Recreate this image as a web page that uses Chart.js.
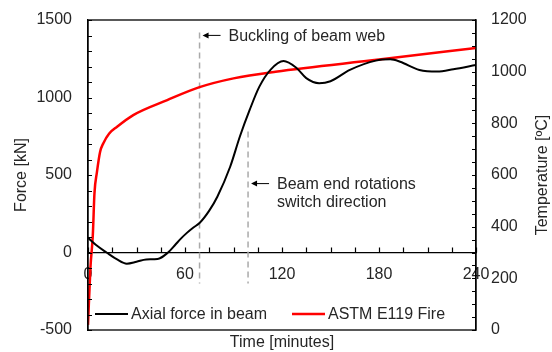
<!DOCTYPE html>
<html>
<head>
<meta charset="utf-8">
<script src="https://cdn.jsdelivr.net/npm/chart.js@4.4.0/dist/chart.umd.min.js"></script>
<style>
  html, body { margin: 0; padding: 0; background: #fff; }
  canvas { display: block; }
</style>
</head>
<body>
<canvas id="chart" width="552" height="352"></canvas>
<script>
// Axial force in beam (time in minutes, force in kN)
const forceTime = [0, 5, 11.5, 18, 24, 30, 36, 43, 49.5, 54, 57, 61, 65, 69, 75, 80, 88, 94, 100, 106, 113, 121, 129, 135, 143, 150, 162, 178, 187, 193, 205, 216, 226, 240];
const forceValues = [95, 48, 0, -45, -72, -60, -45, -42, 0, 50, 85, 125, 160, 190, 270, 360, 555, 750, 920, 1070, 1180, 1235, 1190, 1125, 1092, 1105, 1178, 1238, 1246, 1231, 1178, 1167, 1182, 1210];

// ASTM E119 fire curve (time in minutes, temperature in C)
const fireTime = [0, 1.5, 3, 4, 5.5, 7.5, 9.5, 13, 18, 28, 49, 69, 90, 116, 180, 240];
const fireTemp = [20, 240, 370, 530, 610, 690, 723, 760, 787, 832, 890, 940, 974, 1000, 1047, 1092];

// event markers
const noteTime = [69, 99];
const noteTop = [1420, 780];
const noteBottom = -200;
const noteText = [['Buckling of beam web'], ['Beam end rotations', 'switch direction']];

const FONT = 'Liberation Sans, Arial, sans-serif';
const TXT = '#262626';

function pairs(xs, ys) {
    return xs.map((x, i) => ({ x: x, y: ys[i] }));
}

// inward tick marks, frame, arrows and legend
const decorations = {
    id: 'decorations',
    afterDraw(chart) {
        const ctx = chart.ctx;
        const a = chart.chartArea;
        const sx = chart.scales.x, sy = chart.scales.y, sr = chart.scales.yr;
        ctx.save();
        ctx.strokeStyle = '#000';
        ctx.lineWidth = 1.2;
        ctx.beginPath();
        sy.ticks.forEach(t => {
            const p = Math.round(sy.getPixelForValue(t.value)) + 0.5;
            ctx.moveTo(a.left, p); ctx.lineTo(a.left + 4, p);
        });
        sr.ticks.forEach(t => {
            const p = Math.round(sr.getPixelForValue(t.value)) + 0.5;
            ctx.moveTo(a.right, p); ctx.lineTo(a.right - 4, p);
        });
        const y0 = sy.getPixelForValue(0);
        sx.ticks.forEach(t => {
            const p = Math.round(sx.getPixelForValue(t.value)) + 0.5;
            ctx.moveTo(p, y0); ctx.lineTo(p, y0 - 5);
        });
        ctx.stroke();
        ctx.lineWidth = 1.3;
        ctx.strokeRect(a.left, a.top, a.right - a.left, a.bottom - a.top);

        // arrows + notes
        ctx.font = '16px ' + FONT;
        ctx.fillStyle = TXT;
        ctx.textBaseline = 'middle';
        noteTime.forEach((t, i) => {
            const x = sx.getPixelForValue(t) + 3;
            const y = i === 0 ? sy.getPixelForValue(noteTop[0]) + 3 : sy.getPixelForValue(noteTop[1]) + 52;
            ctx.beginPath();
            ctx.lineWidth = 1;
            ctx.moveTo(x + 18, y); ctx.lineTo(x + 2, y);
            ctx.stroke();
            ctx.beginPath();
            ctx.moveTo(x, y); ctx.lineTo(x + 6, y - 3); ctx.lineTo(x + 6, y + 3); ctx.closePath();
            ctx.fillStyle = '#000';
            ctx.fill();
            ctx.fillStyle = TXT;
            noteText[i].forEach((line, j) => {
                ctx.fillText(line, x + 26, y + 1 + j * 18);
            });
        });

        // legend inside plot
        const ly = a.bottom - 16;
        const items = [[a.left + 7, 0], [a.left + 204, 1]];
        items.forEach(([lx, di]) => {
            const ds = chart.data.datasets[di];
            ctx.beginPath();
            ctx.strokeStyle = ds.borderColor;
            ctx.lineWidth = ds.borderWidth;
            ctx.moveTo(lx, ly); ctx.lineTo(lx + 33, ly);
            ctx.stroke();
            ctx.fillStyle = TXT;
            ctx.fillText(ds.label, lx + 36, ly + 1);
        });

        // right axis title, reading bottom to top
        ctx.save();
        ctx.translate(543, (a.top + a.bottom) / 2);
        ctx.rotate(-Math.PI / 2);
        ctx.textAlign = 'center';
        ctx.fillText('Temperature [\u00baC]', 0, 0);
        ctx.restore();
        ctx.restore();
    }
};

const markerSets = noteTime.map((t, i) => ({
    label: 'marker' + i,
    data: [{ x: t, y: noteTop[i] }, { x: t, y: noteBottom }],
    borderColor: '#aaaaaa',
    borderWidth: 1.5,
    borderDash: [6, 4],
    pointRadius: 0,
    yAxisID: 'y'
}));

new Chart(document.getElementById('chart'), {
    type: 'line',
    data: {
        datasets: [{
            label: 'Axial force in beam',
            data: pairs(forceTime, forceValues),
            borderColor: '#000',
            borderWidth: 2,
            pointRadius: 0,
            cubicInterpolationMode: 'monotone',
            yAxisID: 'y'
        }, {
            label: 'ASTM E119 Fire',
            data: pairs(fireTime, fireTemp),
            borderColor: '#ff0000',
            borderWidth: 2.5,
            pointRadius: 0,
            cubicInterpolationMode: 'monotone',
            yAxisID: 'yr'
        }].concat(markerSets)
    },
    options: {
        responsive: false,
        animation: false,
        events: [],
        layout: { padding: { top: 20, bottom: 0, left: 0, right: 0 } },
        plugins: { legend: { display: false }, tooltip: { enabled: false } },
        scales: {
            x: {
                type: 'linear',
                min: 0, max: 240,
                position: { y: 0 },
                grid: { display: false, drawTicks: false },
                border: { display: true, color: '#000', width: 1.2 },
                ticks: {
                    stepSize: 15,
                    autoSkip: false,
                    maxRotation: 0,
                    padding: 12,
                    color: TXT,
                    font: { family: FONT, size: 16 },
                    callback: v => (v % 60 === 0 ? v : '')
                }
            },
            xt: {
                type: 'linear',
                position: 'bottom',
                min: 0, max: 240,
                grid: { display: false, drawTicks: false },
                border: { display: false },
                ticks: { display: false },
                title: {
                    display: true,
                    text: 'Time [minutes]',
                    color: TXT,
                    font: { family: FONT, size: 16 },
                    padding: { top: 0, bottom: 0 }
                },
                afterFit: s => { s.height = 22; }
            },
            y: {
                position: 'left',
                min: -500, max: 1500,
                grid: { display: false, drawTicks: true, tickLength: 16 },
                border: { display: true, color: '#000', width: 1.3 },
                ticks: {
                    stepSize: 100,
                    autoSkip: false,
                    padding: 0,
                    color: TXT,
                    font: { family: FONT, size: 16 },
                    callback: v => (v % 500 === 0 ? v : '')
                },
                title: {
                    display: true,
                    text: 'Force [kN]',
                    color: TXT,
                    font: { family: FONT, size: 16 },
                    padding: { top: 12, bottom: 0 }
                },
                afterFit: s => { s.width = 88; }
            },
            yr: {
                position: 'right',
                min: 0, max: 1200,
                grid: { display: false, drawTicks: true, tickLength: 15 },
                border: { display: true, color: '#000', width: 1.3 },
                ticks: {
                    stepSize: 50,
                    autoSkip: false,
                    padding: 0,
                    color: TXT,
                    font: { family: FONT, size: 16 },
                    callback: v => (v % 200 === 0 ? v : '')
                },
                afterFit: s => { s.width = 76; }
            }
        }
    },
    plugins: [decorations]
});
</script>
</body>
</html>
